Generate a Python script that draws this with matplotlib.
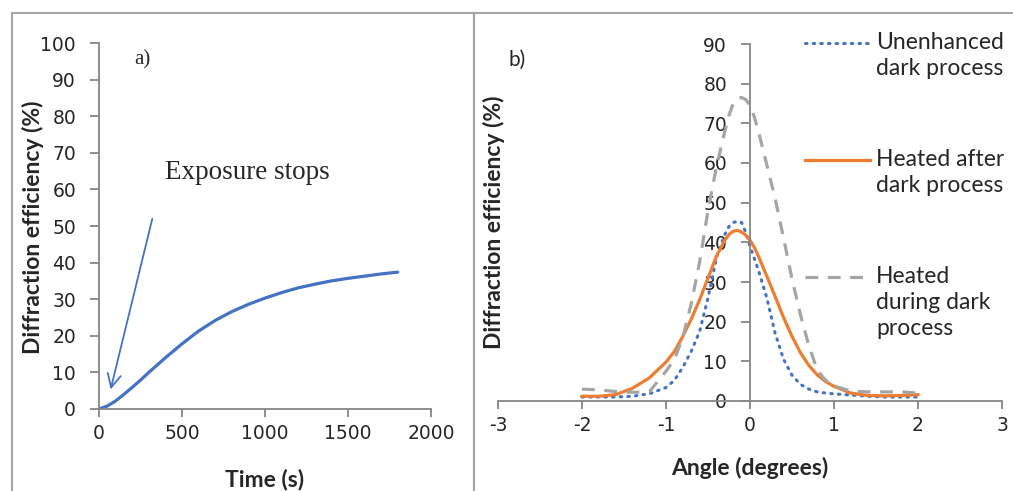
import numpy as np
import matplotlib
matplotlib.use('Agg')
import matplotlib.pyplot as plt
from matplotlib.lines import Line2D
from matplotlib.patches import Rectangle

plt.rcParams['font.family'] = ['DejaVu Sans']

# panel a) growth of diffraction efficiency during exposure
time_s = [0, 50, 100, 150, 200, 250, 300, 350, 400, 500, 600, 700, 800, 900,
          1000, 1100, 1200, 1300, 1400, 1500, 1600, 1700, 1800]
de_time = [0, 0.8, 2.2, 4.0, 5.9, 7.9, 10.0, 12.0, 14.0, 17.8, 21.3, 24.2, 26.6,
           28.6, 30.3, 31.8, 33.1, 34.1, 35.0, 35.7, 36.3, 36.9, 37.4]

# panel b) angular selectivity curves
angle = [-2.0, -1.8, -1.6, -1.4, -1.2, -1.0, -0.9, -0.8, -0.7, -0.6, -0.5, -0.4,
         -0.3, -0.25, -0.2, -0.15, -0.1, -0.05, 0.0, 0.05, 0.1, 0.2, 0.3, 0.4, 0.5,
         0.6, 0.7, 0.8, 0.9, 1.0, 1.2, 1.4, 1.6, 1.8, 2.0]
unenhanced = [1.0, 1.0, 1.0, 1.2, 1.8, 3.4, 5.2, 8.5, 12.5, 17.5, 26, 36,
              42, 44, 45, 45.3, 45, 42.5, 39, 36, 33, 26, 17, 10.5, 6.5,
              4.2, 3.0, 2.3, 2.0, 1.8, 1.5, 1.2, 1.0, 1.0, 1.0]
heated_after = [1.2, 1.2, 1.6, 3.2, 5.8, 9.8, 12.5, 16.3, 20.6, 25.5, 31.0, 36.5,
                40.5, 42.0, 42.8, 43.0, 42.6, 41.8, 40.5, 38.8, 36.5, 31.5, 26.3, 21.0, 16.3,
                12.2, 9.0, 6.6, 4.9, 3.7, 2.0, 1.4, 1.3, 1.4, 1.6]
heated_during = [3.0, 2.8, 2.4, 2.2, 2.3, 7.5, 10.5, 16, 24.5, 35, 48, 59,
                 68, 72, 75, 76.3, 76.5, 76, 74.6, 71.7, 68, 59.5, 51, 41, 30.8,
                 21.8, 14, 7.8, 5.2, 3.8, 2.5, 2.3, 2.3, 2.3, 2.0]
legend_labels = ['Unenhanced\ndark process', 'Heated after\ndark process',
                 'Heated\nduring dark\nprocess']

blue = '#4472C4'
orange = '#ED7D31'
grey = '#A5A5A5'
axis_col = '#868686'
text_col = '#262626'

fig = plt.figure(figsize=(10.13, 4.91), dpi=100)

# panel frames
fig.add_artist(Rectangle((12 / 1013, -0.05), 462 / 1013, 1.05 - 13 / 491, transform=fig.transFigure,
                         fill=False, edgecolor='#A6A6A6', linewidth=1.5))
fig.add_artist(Rectangle((474 / 1013, -0.05), 0.6, 1.05 - 13 / 491, transform=fig.transFigure,
                         fill=False, edgecolor='#A6A6A6', linewidth=1.5))


def style_axes(ax):
    for s in ['top', 'right']:
        ax.spines[s].set_visible(False)
    for s in ['left', 'bottom']:
        ax.spines[s].set_color(axis_col)
        ax.spines[s].set_linewidth(1.3)
    ax.tick_params(colors=axis_col, labelcolor=text_col, width=1.3, labelsize=13.5)
    ax.tick_params(axis='x', length=5.5, pad=5)
    ax.tick_params(axis='y', length=6.5, pad=10)
    ax.patch.set_alpha(0)


# ---- a)
ax1 = fig.add_axes([99 / 1013, 1 - 409 / 491, 332 / 1013, 366 / 491])
style_axes(ax1)
ax1.plot(time_s, de_time, color=blue, lw=2.3, solid_capstyle='round')
ax1.set_xlim(0, 2000)
ax1.set_ylim(0, 100)
ax1.set_xticks([0, 500, 1000, 1500, 2000])
ax1.set_yticks(np.arange(0, 101, 10))
ax1.set_xlabel('Time (s)', family='Lato', weight='bold', fontsize=16.5, color=text_col, labelpad=19)
fig.text(33 / 1013, 1 - 227 / 491, 'Diffraction efficiency (%)', family='Lato', weight='bold',
         fontsize=16.5, color=text_col, rotation=90, ha='center', va='center')
ax1.text(0.105, 0.955, 'a)', transform=ax1.transAxes, family='Liberation Serif',
         fontsize=15, color=text_col, va='center')
ax1.text(0.2, 0.645, 'Exposure stops', transform=ax1.transAxes, family='Liberation Serif',
         fontsize=19.5, color=text_col, va='center')
ax1.annotate('', xy=(66, 4.6), xytext=(325, 52.7),
             arrowprops=dict(arrowstyle='->', color=blue, lw=1.3,
                             mutation_scale=24))

# ---- b)
ax2 = fig.add_axes([498 / 1013, 1 - 401 / 491, 504 / 1013, 357 / 491])
style_axes(ax2)
ax2.spines['left'].set_position(('data', 0))
dotted = (0, (0.5, 2.0))
dashed = (0, (4, 3))
ax2.plot(angle, unenhanced, color=blue, lw=2.2, ls=dotted, dash_capstyle='round')
ax2.plot(angle, heated_after, color=orange, lw=2.3)
ax2.plot(angle, heated_during, color=grey, lw=2.3, ls=dashed)
ax2.set_xlim(-3, 3)
ax2.set_ylim(0, 90)
ax2.set_xticks([-3, -2, -1, 0, 1, 2, 3])
ax2.set_xticklabels(['-3', '-2', '-1', '0', '1', '2', '3'])
ax2.set_yticks(np.arange(0, 91, 10))
ax2.set_xlabel('Angle (degrees)', family='Lato', weight='bold', fontsize=16.5,
               color=text_col, labelpad=16)
fig.text(494 / 1013, 1 - 222 / 491, 'Diffraction efficiency (%)', family='Lato', weight='bold',
         fontsize=16.5, color=text_col, rotation=90, ha='center', va='center')
ax2.text(0.02, 0.955, 'b)', transform=ax2.transAxes, family='Lato',
         fontsize=15, color=text_col, va='center')

# legend drawn beside the curves
leg_y = [43, 160, 277]
styles = [dict(color=blue, lw=2.2, ls=dotted, dash_capstyle='round'),
          dict(color=orange, lw=2.3),
          dict(color=grey, lw=2.3, ls=dashed)]
for yy, lab, st in zip(leg_y, legend_labels, styles):
    fig.add_artist(Line2D([805 / 1013, 870 / 1013], [1 - yy / 491, 1 - yy / 491],
                          transform=fig.transFigure, **st))
    fig.text(876 / 1013, 1 - (yy - 11) / 491, lab, family='Lato', fontsize=16.5,
             color=text_col, va='top', ha='left', linespacing=1.3)

fig.savefig('out.png', dpi=100)
